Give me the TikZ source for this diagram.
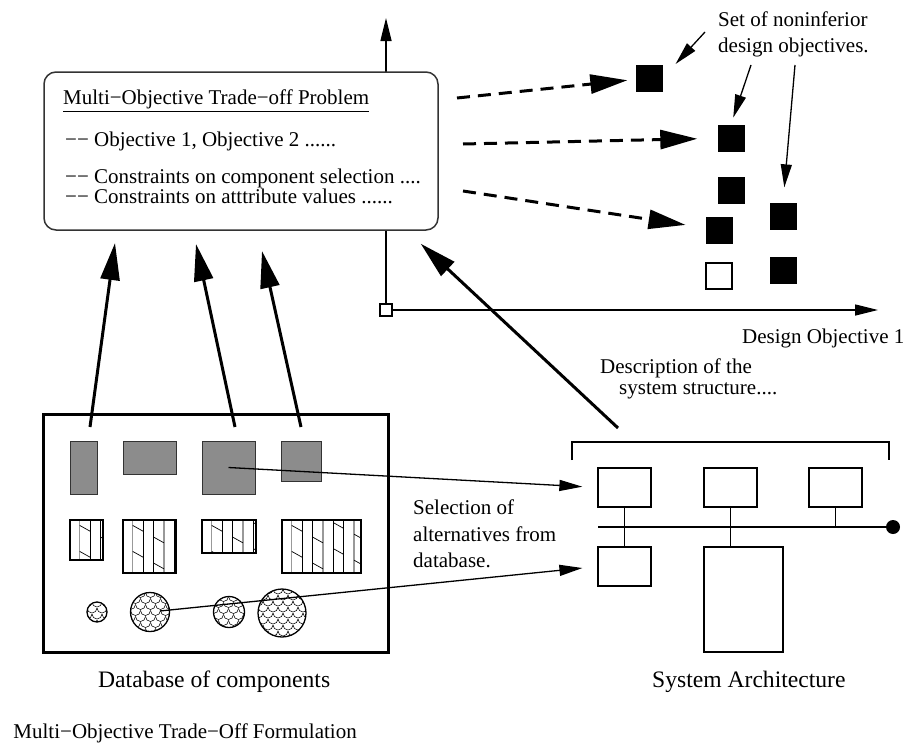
\documentclass[tikz,border=0pt]{standalone}
\usepackage{fontspec}
\setmainfont{Liberation Serif}
\usetikzlibrary{arrows.meta,calc,positioning}

\begin{document}
\begin{tikzpicture}[x=1pt,y=-1pt,
  lbl/.style={inner sep=0pt,font=\fontsize{21}{25}\selectfont},
  biglbl/.style={inner sep=0pt,font=\fontsize{23.6}{28}\selectfont},
  thinline/.style={line width=1.3pt},
  thinarr/.style={thinline,-{Triangle[length=23pt,width=11pt]}},
  fatarr/.style={line width=3pt,-{Triangle[length=37pt,width=19pt]}},
  dasharr/.style={fatarr,dash pattern=on 13pt off 8pt},
  objsq/.style={fill=black,minimum size=27pt,inner sep=0pt},
  orgbox/.style={draw,fill=white,thinline,minimum size=12pt,inner sep=0pt},
  probbox/.style={draw=black!80,fill=white,line width=1.5pt,rounded corners=12pt,
    minimum width=394pt,minimum height=158pt},
  dbbox/.style={draw,line width=3pt,minimum width=345pt,minimum height=238pt},
  grayb/.style={draw=black!80,fill=black!45,line width=1pt,inner sep=0pt},
  hatchb/.style={draw,thinline,inner sep=0pt,path picture={
    \coordinate (hw) at (path picture bounding box.north west);
    \foreach \i in {0,3,6}
      \draw[black!40,line width=1.3pt] ([xshift={(9.7+\i*10.4)*1pt}]hw) -- ++(0pt,-70pt);
    \foreach \i in {1,2,4,5,7}
      \draw[line width=0.9pt] ([xshift={(9.7+\i*10.4)*1pt}]hw) -- ++(0pt,-70pt);
    \foreach \k in {-3,...,2}
      \draw[line width=0.7pt,dash pattern=on 11.9pt off 11.9pt,dash phase=12.7pt]
        ([yshift={-\k*26pt}]hw) -- ++(104pt,-58pt);
  }},
  scaleb/.style={draw,circle,thinline,inner sep=0pt,path picture={
    \coordinate (cw) at (path picture bounding box.north west);
    \foreach \j in {0,...,9}{\foreach \i in {0,...,6}{
      \pgfmathsetmacro\sx{\i*10+mod(\j,2)*5-5}
      \pgfmathsetmacro\sy{\j*6}
      \draw[line width=0.55pt] ([xshift={\sx*1pt},yshift={-\sy*1pt}]cw)
        arc[start angle=180,end angle=360,radius=5pt];
    }}
  }},
  sysbox/.style={draw,thinline,minimum width=53pt,minimum height=39pt,inner sep=0pt},
  busdot/.style={circle,fill=black,minimum size=14pt,inner sep=0pt}]

\useasboundingbox (0,0) rectangle (910,744);

\coordinate (ytip) at (386,18);
\coordinate (xtip) at (878,310);
\node[orgbox] (org) at (386,310) {};
\draw[thinarr] (org) -- (ytip);
\draw[thinarr] (org) -- (xtip);
\node[lbl,anchor=base west] (dobj) at (742,343) {Design Objective 1};

\node[probbox] (prob) at (241,151) {};
\node[lbl,anchor=base west] (ptitle) at (63,104) {Multi−Objective Trade−off Problem};
\draw[thinline] ([yshift=-3pt]ptitle.south west) -- ([yshift=-3pt]ptitle.south east);
\node[lbl,anchor=base west] (obj) at (65,146) {−− Objective 1, Objective 2 ......};
\node[lbl,anchor=base west] (csel) at (65,183) {−− Constraints on component selection ....};
\node[lbl,anchor=base west] (catt) at (65,203) {−− Constraints on atttribute values ......};

\node[objsq] (p1) at (649,78) {};
\node[objsq] (p2) at (731,138) {};
\node[objsq] (p3) at (731,190) {};
\node[objsq] (p4) at (719,230) {};
\node[objsq,draw,thinline,fill=white,minimum size=26pt] (p5) at (719,276) {};
\node[objsq] (p6) at (783,216) {};
\node[objsq] (p7) at (783,270) {};

\coordinate (d1) at (457,98);
\coordinate (d2) at (463,144);
\coordinate (d3) at (463,191);
\draw[dasharr,shorten >=8pt] (d1) -- (p1);
\draw[dasharr,shorten >=20pt] (d2) -- (p2);
\draw[dasharr,shorten >=20pt] (d3) -- (p4);

\node[lbl,anchor=base west] (set1) at (718,26) {Set of noninferior};
\node[lbl,anchor=base west] (set2) at (718,52) {design objectives.};
\coordinate (s1) at (705,32);
\coordinate (s2) at (751,65);
\coordinate (s3) at (795,65);
\draw[thinarr,shorten >=19pt] (s1) -- (p1.east);
\draw[thinarr,shorten >=7pt] (s2) -- (p2.north);
\draw[thinarr,shorten >=15pt] (s3) -- (p6.north);

\node[dbbox] (db) at (215.5,533) {};
\node[grayb,minimum width=27pt,minimum height=53pt] (g1) at (83.5,467.5) {};
\node[grayb,minimum width=53pt,minimum height=33pt] (g2) at (149.5,457.5) {};
\node[grayb,minimum width=53pt,minimum height=53pt] (g3) at (228.5,467.5) {};
\node[grayb,minimum width=40pt,minimum height=40pt] (g4) at (301,461) {};
\node[hatchb,minimum width=33pt,minimum height=40pt] (h1) at (86.5,540) {};
\node[hatchb,minimum width=53pt,minimum height=53pt] (h2) at (149.5,546.5) {};
\node[hatchb,minimum width=54pt,minimum height=33pt] (h3) at (229,536.5) {};
\node[hatchb,minimum width=79pt,minimum height=53pt] (h4) at (321.5,546.5) {};
\node[scaleb,minimum size=20pt] (c1) at (97,612) {};
\node[scaleb,minimum size=39pt] (c2) at (150,612) {};
\node[scaleb,minimum size=31pt] (c3) at (229,612) {};
\node[scaleb,minimum size=48pt] (c4) at (282,613) {};
\node[biglbl,anchor=base west] (dbl) at (98,687) {Database of components};

\coordinate (u1) at (90,427);
\coordinate (u2) at (235,427);
\coordinate (u3) at (301,427);
\coordinate (t1) at (115,243);
\coordinate (t2) at (196,244);
\coordinate (t3) at (262,251);
\draw[fatarr] (u1) -- (t1);
\draw[fatarr] (u2) -- (t2);
\draw[fatarr] (u3) -- (t3);

\draw[thinline] (572,460) -- (572,442) -- (889,442) -- (889,460);
\node[sysbox] (sa) at (624.5,487.5) {};
\node[sysbox] (sb) at (730.5,487.5) {};
\node[sysbox] (sc) at (835.5,487.5) {};
\node[sysbox] (sd) at (624.5,566.5) {};
\node[sysbox,minimum width=79pt,minimum height=105pt] (se) at (743.5,599.5) {};
\coordinate (bus) at (598,527);
\node[busdot] (busend) at (893,527) {};
\draw[thinline] (bus) -- (busend);
\draw[thinline] (sa) -- (sd);
\draw[thinline] (sb.south) -- (sb.south |- se.north);
\draw[thinline] (sc.south) -- (sc.south |- busend);
\node[biglbl,anchor=base west] (sal) at (652,687) {System Architecture};

\node[lbl,anchor=base west] (desc1) at (600,373) {Description of the};
\node[lbl,anchor=base west] (desc2) at (619,394) {system structure....};
\coordinate (bs) at (618,428);
\draw[fatarr] (bs) -- ($(prob.south east)+(-18,13)$);

\draw[thinarr,shorten >=15pt] (g3.center) -- (sa.west);
\draw[thinarr,shorten >=15pt,shorten <=10pt] (c2.center) -- (sd.west);
\node[lbl,anchor=base west] (sel1) at (413,514) {Selection of};
\node[lbl,anchor=base west] (sel2) at (413,541) {alternatives from};
\node[lbl,anchor=base west] (sel3) at (413,567) {database.};

\node[lbl,anchor=base east] (form) at (357,738) {Multi−Objective Trade−Off Formulation};
\end{tikzpicture}
\end{document}
